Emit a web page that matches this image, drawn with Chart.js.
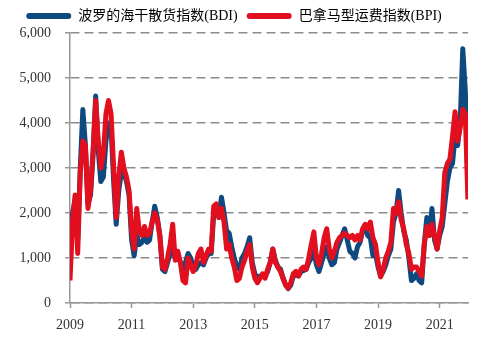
<!DOCTYPE html>
<html>
<head>
<meta charset="utf-8">
<script src="https://cdn.jsdelivr.net/npm/chart.js"></script>
<style>
  html, body { margin: 0; padding: 0; background: #fff; }
  #wrap { width: 499px; height: 340px; }
</style>
</head>
<body>
<div id="wrap"><canvas id="chart" width="499" height="340"></canvas></div>
<script>
// monthly readings, Jan 2009 .. Dec 2021
const startYear = 2009;
const seriesNames = ["波罗的海干散货指数(BDI)", "巴拿马型运费指数(BPI)"];
const bdi = [
  800, 2000, 2300, 1400, 3000, 4300, 3500, 2200, 2400, 3300, 4600, 3400,
  2700, 2800, 3600, 4000, 3900, 2700, 1750, 2500, 2900, 2900, 2700, 2400,
  1400, 1050, 1500, 1300, 1350, 1450, 1350, 1400, 1800, 2150, 1900, 1500,
  750, 700, 900, 1100, 1150, 1000, 1050, 900, 750, 900, 1100, 1000,
  800, 750, 850, 900, 850, 1000, 1100, 1100, 2000, 2100, 1900, 2350,
  2000, 1600, 1550, 1250, 1000, 800, 750, 1000, 1100, 1250, 1450, 900,
  650, 550, 600, 620, 600, 700, 900, 1200, 950, 800, 750, 550,
  400, 320, 400, 600, 620, 600, 700, 720, 750, 900, 1000, 1150,
  850, 700, 900, 1100, 1250, 1000, 850, 900, 1200, 1350, 1500, 1650,
  1400, 1150, 1100, 1000, 1250, 1350, 1600, 1720, 1500, 1450, 1050, 1100,
  800, 600, 700, 850, 1050, 1200, 1800, 2000, 2500, 2000, 1600, 1400,
  1000, 500, 550, 650, 500, 450, 1300, 1900, 1500, 2100, 1400, 1200,
  1500, 1700, 2200, 2700, 3000, 3100, 3700, 3500, 4000, 5650, 4700, 2700
];
const bpi = [
  500, 1800, 2400, 1100, 2900, 3600, 3500, 2100, 2500, 3400, 4500, 3600,
  3000, 3300, 4200, 4500, 4200, 3000, 1900, 2800, 3350, 3000, 2800, 2500,
  1600, 1200, 2100, 1600, 1500, 1700, 1500, 1550, 1800, 2000, 1850, 1500,
  800, 750, 1000, 1300, 1750, 950, 1150, 900, 500, 450, 1000, 850,
  700, 850, 1100, 1200, 900, 1050, 1200, 1150, 2150, 2200, 1900, 2100,
  1800, 1200, 1300, 1000, 800, 500, 550, 800, 950, 1150, 1300, 800,
  550, 450, 550, 650, 550, 750, 900, 1200, 900, 800, 700, 550,
  400, 330, 450, 650, 700, 600, 750, 800, 750, 1000, 1300, 1580,
  1000, 850, 1100, 1450, 1650, 1200, 1000, 1150, 1350, 1450, 1500, 1550,
  1500, 1450, 1500, 1400, 1500, 1400, 1650, 1750, 1650, 1800, 1450, 1300,
  900, 580, 750, 1000, 1150, 1350, 2100, 2000, 2250, 1850, 1650, 1300,
  1100, 750, 800, 800, 700, 600, 1300, 1700, 1500, 1750, 1500, 1200,
  1600, 1900, 2900, 3100, 3200, 3700, 4250, 3600, 3900, 4300, 4200, 2300
];
const tickYears = [2009, 2011, 2013, 2015, 2017, 2019, 2021];
const yTicks = [0, 1000, 2000, 3000, 4000, 5000, 6000];

const colors = ["#0e4a7f", "#e2101f"];
const toPoints = arr => arr.map((v, i) => ({ x: startYear + i / 12, y: v }));

Chart.defaults.font.family = "'Liberation Serif', 'Noto Sans CJK SC', serif";
Chart.defaults.font.size = 14;
Chart.defaults.color = "#333";

new Chart(document.getElementById("chart"), {
  type: "line",
  data: {
    datasets: [
      { label: seriesNames[0], data: toPoints(bdi), borderColor: colors[0], backgroundColor: colors[0],
        borderWidth: 5, borderJoinStyle: "round", pointRadius: 0, tension: 0, order: 1 },
      { label: seriesNames[1], data: toPoints(bpi), borderColor: colors[1], backgroundColor: colors[1],
        borderWidth: 5, borderJoinStyle: "round", pointRadius: 0, tension: 0, order: 0 }
    ]
  },
  options: {
    responsive: false,
    animation: false,
    layout: { padding: { top: 0, right: 31, bottom: 0, left: 0 } },
    plugins: {
      tooltip: { enabled: false },
      legend: {
        position: "top",
        onClick: null,
        labels: {
          boxWidth: 45,
          boxHeight: 6,
          padding: 9,
          font: { size: 14 },
          color: "#222",
          generateLabels: chart => chart.data.datasets.map((ds, i) => ({
            text: ds.label,
            fillStyle: ds.borderColor,
            strokeStyle: ds.borderColor,
            lineWidth: 0,
            borderRadius: 3,
            datasetIndex: i
          }))
        }
      }
    },
    scales: {
      x: {
        type: "linear",
        min: 2009,
        max: 2021.92,
        afterBuildTicks: axis => { axis.ticks = tickYears.map(v => ({ value: v })); },
        afterFit: axis => { axis.height = 37; },
        ticks: { padding: 9, maxRotation: 0, callback: v => String(v), color: "#333" },
        grid: { drawOnChartArea: false, drawTicks: true, tickLength: 5, tickColor: "#999", tickWidth: 1.5 },
        border: { display: true, color: "#999", width: 1.5 }
      },
      y: {
        min: 0,
        max: 6000,
        afterBuildTicks: axis => { axis.ticks = yTicks.map(v => ({ value: v })); },
        afterFit: axis => { axis.width = 70; },
        ticks: { padding: 14, callback: v => v.toLocaleString("en-US"), color: "#333" },
        grid: { color: "#8c8c8c", lineWidth: 1.5, tickLength: 5, tickColor: "#999", tickWidth: 1.5, tickBorderDash: [] },
        border: { display: true, color: "#999", width: 1.5, dash: [9, 5] }
      }
    }
  }
});
</script>
</body>
</html>
